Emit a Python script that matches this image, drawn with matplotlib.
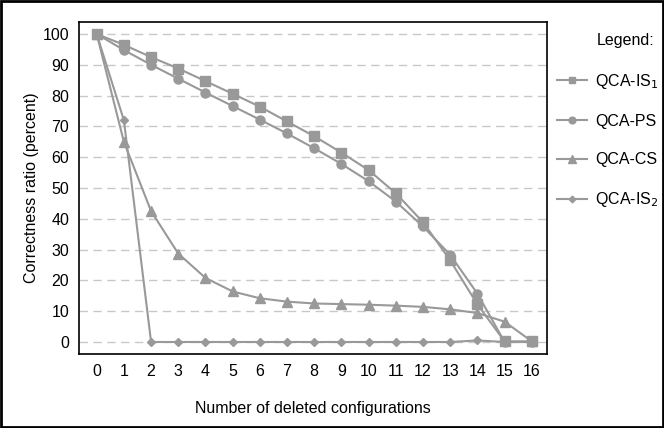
import matplotlib
matplotlib.use("Agg")
import matplotlib.pyplot as plt
from matplotlib.patches import Rectangle

plt.rcParams['font.family'] = ['Liberation Sans', 'DejaVu Sans']

# data
deleted = list(range(17))
qca_is1 = [100, 96.5, 92.5, 88.8, 84.7, 80.6, 76.4, 71.6, 66.8, 61.5, 55.8, 48.3, 38.9, 26.5, 12.2, 0.2, 0.2]
qca_ps = [100, 94.8, 90.0, 85.5, 81.0, 76.6, 72.2, 67.7, 62.9, 57.8, 52.2, 45.6, 37.5, 28.3, 15.7, 0.0, 0.0]
qca_cs = [100, 65.0, 42.5, 28.7, 20.8, 16.4, 14.2, 13.1, 12.5, 12.3, 12.1, 11.8, 11.4, 10.6, 9.4, 6.6, 0.2]
qca_is2 = [100, 72.0, 0, 0, 0, 0, 0, 0, 0, 0, 0, 0, 0, 0, 0.5, 0, 0]
yticks = list(range(0, 101, 10))

grey = '#999999'
fs = 11.5

fig = plt.figure(figsize=(6.64, 4.28), dpi=100)
ax = fig.add_axes([0.119, 0.1729, 0.7048, 0.7757])

ax.plot(deleted, qca_is1, color=grey, marker='s', markersize=6.5, lw=1.5, label='QCA-IS$_1$')
ax.plot(deleted, qca_ps, color=grey, marker='o', markersize=6.5, lw=1.5, label='QCA-PS')
ax.plot(deleted, qca_cs, color=grey, marker='^', markersize=7, lw=1.5, label='QCA-CS')
ax.plot(deleted, qca_is2, color=grey, marker='D', markersize=4.5, lw=1.5, label='QCA-IS$_2$')

for y in yticks:
    ax.axhline(y, color='#c8c8c8', lw=1, ls=(0, (6, 4)), zorder=0)

ax.set_xlim(-0.65, 16.56)
ax.set_ylim(-3.9, 103.9)
ax.set_xticks(deleted)
ax.set_yticks(yticks)
ax.tick_params(length=0, labelsize=fs, pad=7)
ax.set_xlabel('Number of deleted configurations', fontsize=fs, labelpad=16)
ax.set_ylabel('Correctness ratio (percent)', fontsize=fs, labelpad=3)
for s in ax.spines.values():
    s.set_linewidth(1.2)

ax.legend(loc='upper left', bbox_to_anchor=(0.839, 0.832), bbox_transform=fig.transFigure,
          frameon=False, fontsize=fs, borderpad=0, borderaxespad=0,
          labelspacing=1.45, handlelength=1.9, handletextpad=0.5, markerscale=0.75)
fig.text(0.986, 1 - 41 / 428, 'Legend:', fontsize=fs, ha='right', va='center')

fig.add_artist(Rectangle((0.002, 0.003), 0.996, 0.994, transform=fig.transFigure,
                         fill=False, edgecolor='black', lw=2))

fig.savefig('out.png', dpi=100)
